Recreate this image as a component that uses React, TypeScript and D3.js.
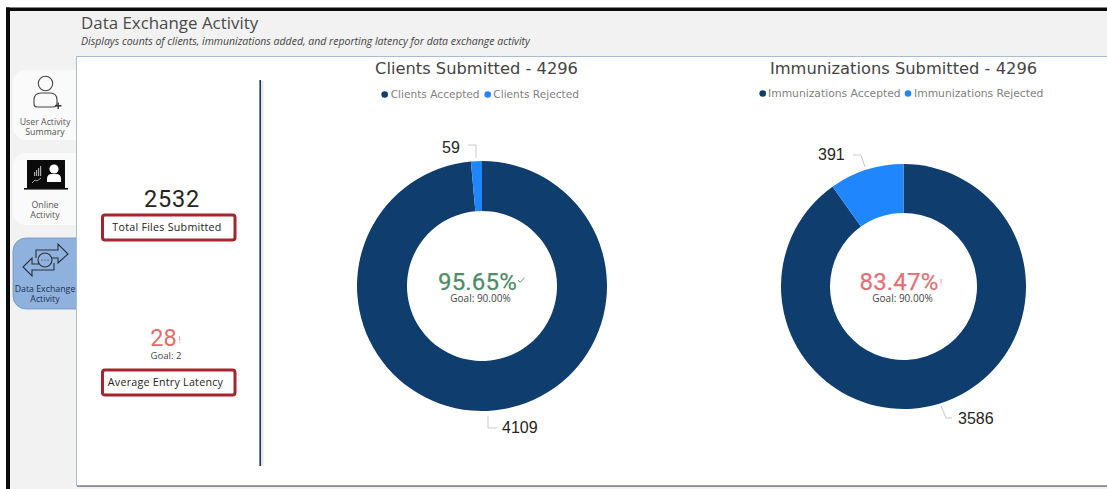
import React from "react";
import * as d3 from "d3";

const clientCategories = ["Clients Accepted", "Clients Rejected"];
const clientValues = [4109, 59];
const immunizationCategories = ["Immunizations Accepted", "Immunizations Rejected"];
const immunizationValues = [3586, 391];
const sliceColors = ["#0f3d6e", "#1f86fb"];

const UI = "'Open Sans', sans-serif";
const WIDE = "'DejaVu Sans', sans-serif";
const NUM = "Roboto, sans-serif";
const ARIAL = "'Liberation Sans', sans-serif";

type DonutProps = {
  cx: number; cy: number; outer: number; inner: number; title: string; titleX: number; titleY: number;
  categories: string[]; values: number[];
  legendDots: number[]; legendTexts: number[]; legendY: number; legendSize: number;
  percent: string; percentColor: string; percentX: number; goalX: number; mark: "check" | "alert"; markX: number;
  labelPos: [number, number][]; leaders: [number, number][][];
};

function Donut(p: DonutProps) {
  const pie = d3.pie<number>().sort(null).value((d) => d);
  const arc = d3.arc<d3.PieArcDatum<number>>().innerRadius(p.inner).outerRadius(p.outer);
  const line = d3.line();
  return (
    <g>
      <text x={p.titleX} y={p.titleY} textAnchor="middle" fontFamily={WIDE} fontSize={16.3} fill="#444">{p.title}</text>
      {p.categories.map((c, i) => (
        <g key={c}>
          <circle cx={p.legendDots[i]} cy={p.legendY - 3.5} r={3.3} fill={sliceColors[i]} />
          <text x={p.legendTexts[i]} y={p.legendY} fontFamily={WIDE} fontSize={p.legendSize} fill="#7f7f7f">{c}</text>
        </g>
      ))}
      <g transform={`translate(${p.cx},${p.cy})`}>
        {pie(p.values).map((s, i) => (
          <path key={i} d={arc(s) ?? ""} fill={sliceColors[i]} />
        ))}
      </g>
      {p.values.map((v, i) => (
        <g key={v}>
          <path d={line(p.leaders[i]) ?? ""} fill="none" stroke="#c9c9c9" strokeWidth={1} />
          <text x={p.labelPos[i][0]} y={p.labelPos[i][1]} fontFamily={ARIAL} fontSize={16} fill="#252423">{v}</text>
        </g>
      ))}
      <text x={p.percentX} y={290} textAnchor="middle" fontFamily={NUM} fontSize={24} letterSpacing={0.2} fill={p.percentColor} stroke={p.percentColor} strokeWidth={0.25}>{p.percent}</text>
      {p.mark === "check"
        ? <path d={`M${p.markX} ${p.cy - 6}l2.2 2.4l4.3 -4.6`} fill="none" stroke={p.percentColor} strokeWidth={0.9} />
        : <text x={p.markX} y={p.cy - 1} fontFamily={NUM} fontSize={9} fill={p.percentColor} opacity={0.8}>!</text>}
      <text x={p.goalX} y={301.5} textAnchor="middle" fontFamily={UI} fontSize={10} fill="#444">Goal: 90.00%</text>
    </g>
  );
}

function KpiLabel({ y, x, text }: { y: number; x: number; text: string }) {
  return (
    <g>
      <rect x={102.5} y={y} width={132.5} height={25} rx={2.5} fill="#fff" stroke="#a4262c" strokeWidth={3} />
      <text x={x} y={y + 16} textAnchor="middle" fontFamily={UI} fontSize={10.7} letterSpacing={0.25} fill="#252423">{text}</text>
    </g>
  );
}

function NavTile({ y, h, textY, active, lines }: { y: number; h: number; textY: number; active?: boolean; lines: string[] }) {
  return (
    <g>
      <rect x={13} y={y} width={90} height={h} rx={13} fill={active ? "#8fb1de" : "#fafafa"} stroke={active ? "#6f93c4" : "none"} strokeWidth={0.8} />
      {lines.map((l, i) => (
        <text key={l} x={45} y={textY + i * 9.5} textAnchor="middle" fontFamily={UI} fontSize={8.8} fill={active ? "#1f3350" : "#555"}>{l}</text>
      ))}
    </g>
  );
}

export default function App() {
  return (
    <svg width={1107} height={489} style={{ position: "fixed", left: 0, top: 0 }}>
      <rect width={1107} height={489} fill="#fff" />
      <rect x={8} y={9} width={1099} height={480} fill="#f2f2f2" />
      <rect x={6} y={7.5} width={1101} height={3.5} fill="#0a0a0a" />
      <rect x={6} y={7.5} width={4} height={481.5} fill="#0a0a0a" />

      <text x={81} y={29} fontFamily={UI} fontSize={16.9} fill="#4a4a4a">Data Exchange Activity</text>
      <text x={81} y={45} fontFamily={UI} fontSize={10.5} fontStyle="italic" fill="#444">Displays counts of clients, immunizations added, and reporting latency for data exchange activity</text>

      {/* Navigation rail */}
      <NavTile y={70} h={70} textY={125} lines={["User Activity", "Summary"]} />
      <NavTile y={153} h={72} textY={208} lines={["Online", "Activity"]} />
      <NavTile y={238} h={71} textY={292} active lines={["Data Exchange", "Activity"]} />

      {/* User icon */}
      <g fill="none" stroke="#444" strokeWidth={1.1}>
        <circle cx={45.5} cy={83.5} r={7.2} />
        <path d="M41 93h9q7 0 7 7v3q0 4 -4 4h-16q-3 0 -3 -3v-4q0 -7 7 -7z" />
      </g>
      <path d="M55 105h2.5v-2.5h1.4v2.5h2.5v1.4h-2.5v2.5h-1.4v-2.5h-2.5z" fill="#333" />

      {/* Laptop icon */}
      <rect x={27} y={160} width={38} height={28} fill="#0b0b0b" />
      <rect x={24} y={188} width={44} height={1.6} fill="#111" />
      <circle cx={54} cy={169} r={4.6} fill="#fff" />
      <path d="M47 182v-3q0 -5 5 -5h4q5 0 5 5v3z" fill="#fff" />
      <path d="M34 176v-4h1.2v4zM36 176v-6h1.2v6zM38 176v-8h1.2v8zM40 176v-10h1.2v10z" fill="#aaa" />
      <path d="M32 183l3 -3l2 1l4 -3" fill="none" stroke="#ccc" strokeWidth={0.8} />

      {/* Exchange icon */}
      <g fill="none" stroke="#2a2f38" strokeWidth={1.1}>
        <path d="M36 258v-8h22v-6l10 10l-10 9v-5h-7" />
        <path d="M54 263v7h-22v6l-9 -9l9 -9v6h7" />
        <circle cx={45} cy={260} r={7} />
      </g>
      <path d="M42 260h.01M45 260h.01M48 260h.01" stroke="#2a2f38" strokeWidth={1.2} strokeLinecap="round" />

      {/* Report canvas */}
      <rect x={76.5} y={56.5} width={1040} height={429} fill="#fff" stroke="#a9bbd0" strokeWidth={1} />
      <rect x={77} y={485.5} width={1030} height={1.5} fill="#8c8c8c" />

      {/* Divider */}
      <rect x={261} y={81} width={2.5} height={385} fill="#e6e6e6" />
      <rect x={259.4} y={80} width={1.6} height={386} fill="#1a3a5c" />

      {/* KPI column */}
      <text x={172} y={207} textAnchor="middle" fontFamily={NUM} fontSize={23.5} letterSpacing={0.8} fill="#252423">2532</text>
      <KpiLabel y={215} x={167} text="Total Files Submitted" />
      <text x={163.5} y={345.5} textAnchor="middle" fontFamily={NUM} fontSize={23.5} fill="#e46c6c">28</text>
      <text x={178.5} y={343} fontFamily={NUM} fontSize={9} fill="#e46c6c" opacity={0.8}>!</text>
      <text x={166} y={358.5} textAnchor="middle" fontFamily={UI} fontSize={9.6} fill="#444">Goal: 2</text>
      <KpiLabel y={370} x={165.5} text="Average Entry Latency" />

      <Donut
        cx={482} cy={286} outer={125} inner={75}
        title="Clients Submitted - 4296" titleX={476.5} titleY={74}
        categories={clientCategories} values={clientValues}
        legendDots={[384.7, 487.7]} legendTexts={[390.7, 493.3]} legendY={98} legendSize={10.6}
        percent="95.65%" percentColor="#4c8c66" percentX={477.5} goalX={480.5} mark="check" markX={518}
        labelPos={[[502, 433], [442, 153]]}
        leaders={[
          [[488, 416], [488, 428], [497, 428]],
          [[476, 158], [476, 145], [468, 145]],
        ]}
      />
      <Donut
        cx={903.5} cy={286.5} outer={122.5} inner={73.5}
        title="Immunizations Submitted - 4296" titleX={903.5} titleY={74}
        categories={immunizationCategories} values={immunizationValues}
        legendDots={[762.7, 908]} legendTexts={[768, 914]} legendY={97} legendSize={10.75}
        percent="83.47%" percentColor="#e07176" percentX={899} goalX={902.5} mark="alert" markX={940}
        labelPos={[[958, 424], [818, 160]]}
        leaders={[
          [[941, 406], [946, 418], [952, 418]],
          [[865, 167], [861, 155], [853, 155]],
        ]}
      />
    </svg>
  );
}
